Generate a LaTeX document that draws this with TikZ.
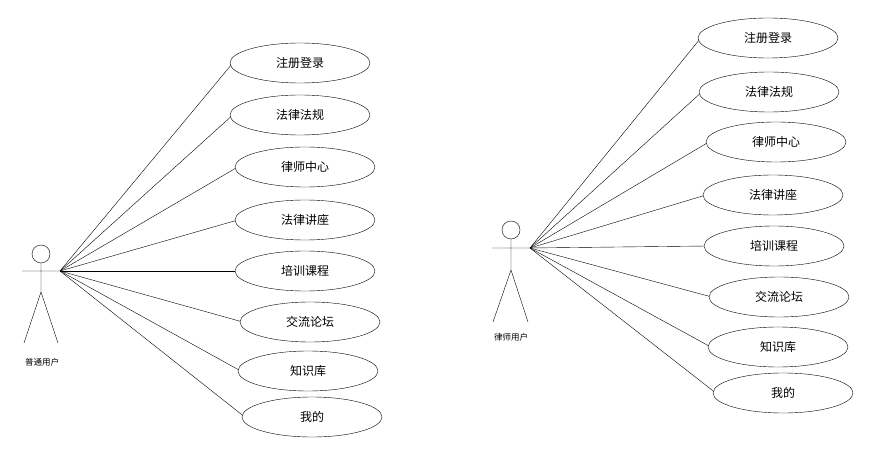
\documentclass[tikz,border=0pt]{standalone}
\usepackage{fontspec}
\usetikzlibrary{shapes.geometric}
\setmainfont{Noto Sans CJK SC}
\pgfdeclarelayer{bg}
\pgfsetlayers{bg,main}
\begin{document}
\begin{tikzpicture}[x=1pt,y=1pt,
  uc/.style={draw,fill=white,ellipse,minimum width=140pt,minimum height=40pt,inner sep=0pt,font=\fontsize{12}{14}\selectfont},
  lbl/.style={font=\fontsize{8.5}{10}\selectfont}]
\useasboundingbox (0,0) rectangle (873,-457);
% left actor
\node[draw,circle,minimum size=18pt,inner sep=0pt] (h1) at (41,-254) {};
\coordinate (p1) at (41,-292);
\coordinate (la1) at (22,-271);
\coordinate (ra1) at (60,-271);
\coordinate (ll1) at (24,-343);
\coordinate (rl1) at (58,-343);
\draw (h1.south) -- (p1) (la1) -- (ra1) (ll1) -- (p1) -- (rl1);
\node[lbl] (t1) at (42,-362) {普通用户};
\node[uc] (a1) at (300,-63) {注册登录};
\node[uc] (a2) at (300,-115) {法律法规};
\node[uc] (a3) at (305,-167) {律师中心};
\node[uc] (a4) at (305,-220) {法律讲座};
\node[uc] (a5) at (305,-271) {培训课程};
\node[uc] (a6) at (310,-322) {交流论坛};
\node[uc] (a7) at (308,-371) {知识库};
\node[uc] (a8) at (312,-417) {我的};
% right actor
\node[draw,circle,minimum size=18pt,inner sep=0pt] (h2) at (511,-230) {};
\coordinate (p2) at (511,-270);
\coordinate (la2) at (492,-248);
\coordinate (ra2) at (530,-248);
\coordinate (ll2) at (493,-322);
\coordinate (rl2) at (528,-322);
\draw (h2.south) -- (p2) (la2) -- (ra2) (ll2) -- (p2) -- (rl2);
\node[lbl] (t2) at (511,-337) {律师用户};
\node[uc] (b1) at (768,-38) {注册登录};
\node[uc] (b2) at (769,-92) {法律法规};
\node[uc] (b3) at (776,-142) {律师中心};
\node[uc] (b4) at (773,-195) {法律讲座};
\node[uc] (b5) at (774,-246) {培训课程};
\node[uc] (b6) at (779,-297) {交流论坛};
\node[uc] (b7) at (778,-347) {知识库};
\node[uc] (b8) at (783,-393) {我的};
\begin{pgfonlayer}{bg}
\fill[white] (0,0) rectangle (873,-457);
\foreach \i in {1,...,8} {
  \draw (ra1) -- ([xshift=3pt]a\i.west);
  \draw (ra2) -- ([xshift=3pt]b\i.west);
}
\end{pgfonlayer}
\end{tikzpicture}
\end{document}
